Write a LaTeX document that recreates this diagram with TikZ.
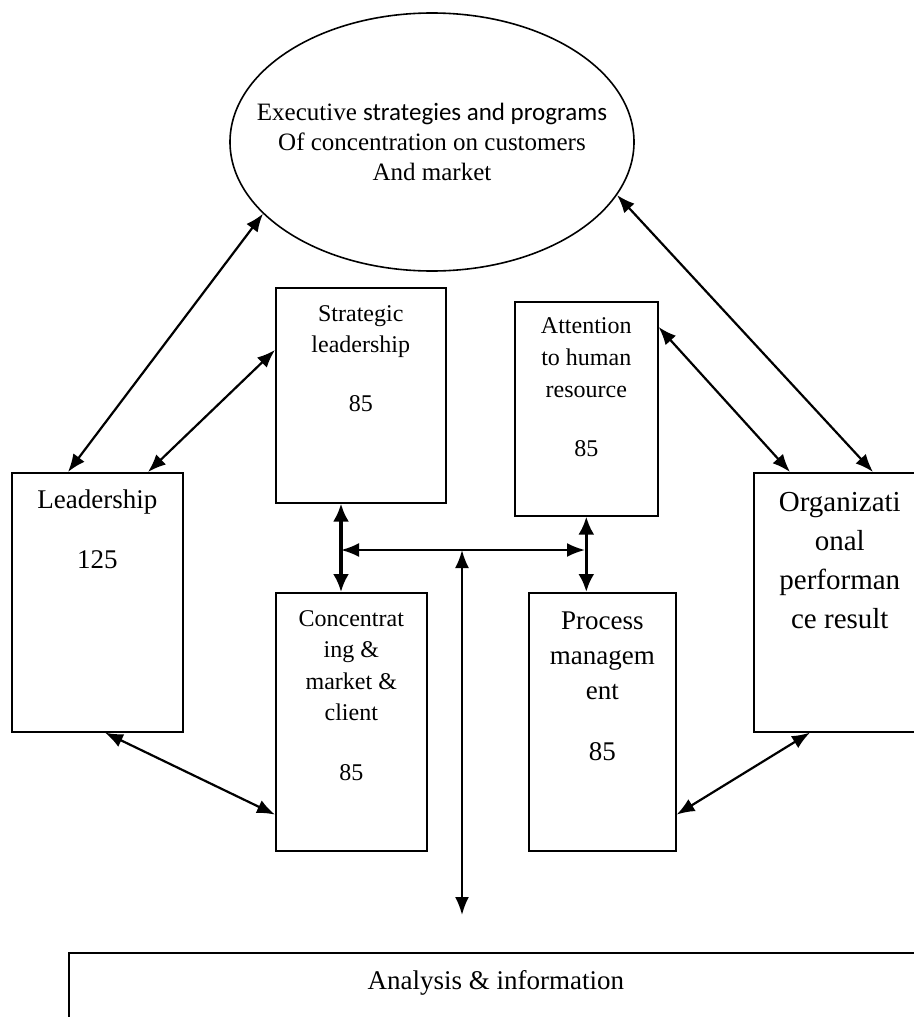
\documentclass[tikz,border=0pt]{standalone}
\usepackage{fontspec}
\setmainfont{Liberation Serif}
\newfontfamily\calfont{Carlito}
\usetikzlibrary{arrows.meta, positioning, shapes.geometric}

\tikzset{
  box/.style={draw, line width=0.8pt, anchor=north west, inner sep=0pt},
  boxtext/.style={align=center, inner sep=0pt},
  link/.style={{Latex[length=9pt,width=7pt]}-{Latex[length=9pt,width=7pt]}, line width=1.1pt},
  thicklink/.style={{Latex[length=9pt,width=8pt]}-{Latex[length=9pt,width=8pt]}, line width=1.6pt},
}

\begin{document}
\begin{tikzpicture}[x=0.5pt, y=-0.5pt]
  %% 1. Frame
  \useasboundingbox (0,0) rectangle (914,1017);
  \clip (0,0) rectangle (914,1017);

  %% 2. Ellipse
  \node[draw, ellipse, line width=0.8pt, minimum width=202pt, minimum height=129pt, inner sep=0pt] (exec) at (432,142) {};
  \node[boxtext, font=\fontsize{12.5}{15}\selectfont] (exec-t) at (exec.center)
    {Executive {\calfont strategies and programs}\\Of concentration on customers\\And market};

  %% 3. Boxes
  \node[box, minimum width=85.5pt, minimum height=129.5pt] (lead) at (11,472) {};
  \node[boxtext, font=\fontsize{13.5}{16}\selectfont, below=8.5pt of lead.north] (lead-t)
    {Leadership\\[14pt]125};

  \node[box, minimum width=85pt, minimum height=107.5pt] (strat) at (275,287) {};
  \node[boxtext, font=\fontsize{12}{15.5}\selectfont, below=9pt of strat.north] (strat-t)
    {Strategic\\leadership\\[14pt]85};

  \node[box, minimum width=71.5pt, minimum height=107pt] (att) at (514,301) {};
  \node[boxtext, font=\fontsize{12}{16}\selectfont, below=8pt of att.north] (att-t)
    {Attention\\to human\\resource\\[13.5pt]85};

  \node[box, minimum width=75.5pt, minimum height=129pt] (conc) at (275,592) {};
  \node[boxtext, font=\fontsize{12}{15.75}\selectfont, below=9pt of conc.north] (conc-t)
    {Concentrat\\ing \&\\market \&\\client\\[14pt]85};

  \node[box, minimum width=73.5pt, minimum height=129pt] (proc) at (528,592) {};
  \node[boxtext, font=\fontsize{13.5}{17.5}\selectfont, below=9.5pt of proc.north] (proc-t)
    {Process\\managem\\ent\\[13pt]85};

  \node[box, minimum width=86pt, minimum height=129.5pt] (org) at (753,472) {};
  \node[boxtext, font=\fontsize{14.5}{19.5}\selectfont, below=10pt of org.north] (org-t)
    {Organizati\\onal\\performan\\ce result};

  \node[box, minimum width=427pt, minimum height=60pt] (info) at (68,952) {};
  \node[boxtext, font=\fontsize{13.5}{16}\selectfont, below=9pt of info.north] (info-t)
    {Analysis \& information};

  %% 4. Connectors
  \draw[link] ([xshift=28.5pt]lead.north west) -- (exec.203);
  \draw[link] ([xshift=68.5pt]lead.north west) -- ([yshift=-31.5pt]strat.north west);
  \draw[link] ([yshift=-13pt]att.north east) -- ([xshift=18.5pt]org.north west);
  \draw[link] (exec.344) -- ([xshift=60pt]org.north west);
  \draw[link] ([xshift=47pt]lead.south west) -- ([yshift=18.5pt]conc.south west);
  \draw[link] ([xshift=28.5pt]org.south west) -- ([yshift=18.5pt]proc.south east);

  \draw[thicklink] ([xshift=33pt]strat.south west) -- ([xshift=33pt]conc.north west);
  \draw[thicklink] (att.south) -- (att.south |- proc.north);

  %% 5. Middle bus
  \coordinate (busL) at (341,550);
  \coordinate (busR) at (585,550);
  \coordinate (busM) at (462,550);
  \coordinate (infoend) at (462,915);
  \draw[link] (busL) -- (busR);
  \draw[link] (busM) -- (infoend);
\end{tikzpicture}
\end{document}
